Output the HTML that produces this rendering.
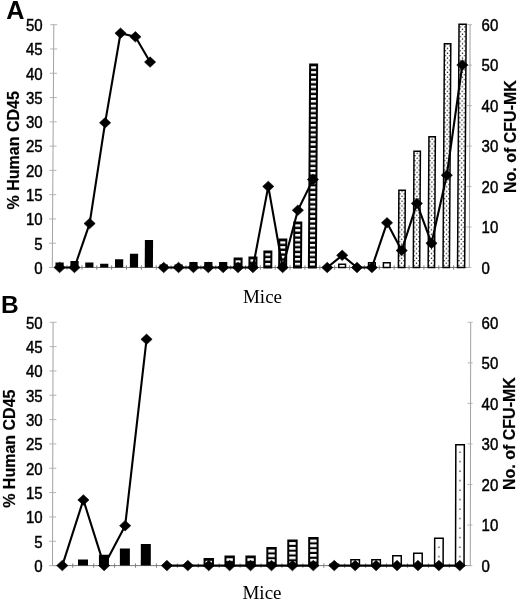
<!DOCTYPE html>
<html><head><meta charset="utf-8"><title>Figure</title>
<style>
html,body{margin:0;padding:0;background:#fff}
svg{display:block;filter:blur(0.35px)}
text{font-family:"Liberation Sans",Arial,sans-serif;fill:#000}
.tk text{font-size:16.7px;stroke:#000;stroke-width:0.45px}
.at{font-size:16px;font-weight:bold;stroke:#000;stroke-width:0.2px}
.pl{font-size:24.5px;font-weight:bold}
.mi{font-family:"Liberation Serif","Times New Roman",serif;font-size:19px}
</style></head><body>
<svg width="520" height="601" viewBox="0 0 520 601">
<defs>
</defs>
<rect width="520" height="601" fill="#fff"/>
<text class="pl" style="font-size:25.2px" x="6.3" y="19">A</text>
<text class="pl" x="1" y="313">B</text>
<g stroke="#969696" stroke-width="0.9" fill="none">
<line x1="53.8" y1="24.7" x2="52.3" y2="267.5"/>
<line x1="470.1" y1="24.7" x2="469.3" y2="267.5"/>
<line x1="52.3" y1="267.5" x2="469.3" y2="267.5" stroke="#6a6a6a"/>
</g><g stroke="#adadad" stroke-width="0.9" fill="none">
<line x1="48.80" y1="267.50" x2="55.80" y2="267.50"/>
<line x1="48.95" y1="243.22" x2="55.95" y2="243.22"/>
<line x1="49.10" y1="218.94" x2="56.10" y2="218.94"/>
<line x1="49.25" y1="194.66" x2="56.25" y2="194.66"/>
<line x1="49.40" y1="170.38" x2="56.40" y2="170.38"/>
<line x1="49.55" y1="146.10" x2="56.55" y2="146.10"/>
<line x1="49.70" y1="121.82" x2="56.70" y2="121.82"/>
<line x1="49.85" y1="97.54" x2="56.85" y2="97.54"/>
<line x1="50.00" y1="73.26" x2="57.00" y2="73.26"/>
<line x1="50.15" y1="48.98" x2="57.15" y2="48.98"/>
<line x1="50.30" y1="24.70" x2="57.30" y2="24.70"/>
<line x1="466.30" y1="267.50" x2="471.30" y2="267.50"/>
<line x1="466.43" y1="227.03" x2="471.43" y2="227.03"/>
<line x1="466.57" y1="186.57" x2="471.57" y2="186.57"/>
<line x1="466.70" y1="146.10" x2="471.70" y2="146.10"/>
<line x1="466.83" y1="105.63" x2="471.83" y2="105.63"/>
<line x1="466.97" y1="65.17" x2="471.97" y2="65.17"/>
<line x1="467.10" y1="24.70" x2="472.10" y2="24.70"/>
<line x1="67.03" y1="265.3" x2="67.03" y2="269.7" stroke="#777"/>
<line x1="81.91" y1="265.3" x2="81.91" y2="269.7" stroke="#777"/>
<line x1="96.78" y1="265.3" x2="96.78" y2="269.7" stroke="#777"/>
<line x1="111.64" y1="265.3" x2="111.64" y2="269.7" stroke="#777"/>
<line x1="126.51" y1="265.3" x2="126.51" y2="269.7" stroke="#777"/>
<line x1="141.38" y1="265.3" x2="141.38" y2="269.7" stroke="#777"/>
<line x1="156.25" y1="265.3" x2="156.25" y2="269.7" stroke="#777"/>
<line x1="171.12" y1="265.3" x2="171.12" y2="269.7" stroke="#777"/>
<line x1="185.99" y1="265.3" x2="185.99" y2="269.7" stroke="#777"/>
<line x1="200.86" y1="265.3" x2="200.86" y2="269.7" stroke="#777"/>
<line x1="215.73" y1="265.3" x2="215.73" y2="269.7" stroke="#777"/>
<line x1="230.60" y1="265.3" x2="230.60" y2="269.7" stroke="#777"/>
<line x1="245.47" y1="265.3" x2="245.47" y2="269.7" stroke="#777"/>
<line x1="260.34" y1="265.3" x2="260.34" y2="269.7" stroke="#777"/>
<line x1="275.21" y1="265.3" x2="275.21" y2="269.7" stroke="#777"/>
<line x1="290.08" y1="265.3" x2="290.08" y2="269.7" stroke="#777"/>
<line x1="304.95" y1="265.3" x2="304.95" y2="269.7" stroke="#777"/>
<line x1="319.82" y1="265.3" x2="319.82" y2="269.7" stroke="#777"/>
<line x1="334.69" y1="265.3" x2="334.69" y2="269.7" stroke="#777"/>
<line x1="349.56" y1="265.3" x2="349.56" y2="269.7" stroke="#777"/>
<line x1="364.44" y1="265.3" x2="364.44" y2="269.7" stroke="#777"/>
<line x1="379.31" y1="265.3" x2="379.31" y2="269.7" stroke="#777"/>
<line x1="394.18" y1="265.3" x2="394.18" y2="269.7" stroke="#777"/>
<line x1="409.05" y1="265.3" x2="409.05" y2="269.7" stroke="#777"/>
<line x1="423.92" y1="265.3" x2="423.92" y2="269.7" stroke="#777"/>
<line x1="438.79" y1="265.3" x2="438.79" y2="269.7" stroke="#777"/>
<line x1="453.65" y1="265.3" x2="453.65" y2="269.7" stroke="#777"/>
</g>
<g class="tk" text-anchor="end">
<text transform="translate(42.6,273.80) scale(0.9,1)">0</text>
<text transform="translate(42.6,249.52) scale(0.9,1)">5</text>
<text transform="translate(42.6,225.24) scale(0.9,1)">10</text>
<text transform="translate(42.6,200.96) scale(0.9,1)">15</text>
<text transform="translate(42.6,176.68) scale(0.9,1)">20</text>
<text transform="translate(42.6,152.40) scale(0.9,1)">25</text>
<text transform="translate(42.6,128.12) scale(0.9,1)">30</text>
<text transform="translate(42.6,103.84) scale(0.9,1)">35</text>
<text transform="translate(42.6,79.56) scale(0.9,1)">40</text>
<text transform="translate(42.6,55.28) scale(0.9,1)">45</text>
<text transform="translate(42.6,31.00) scale(0.9,1)">50</text>
</g><g class="tk" text-anchor="start">
<text transform="translate(481.6,273.80) scale(0.9,1)">0</text>
<text transform="translate(481.6,233.33) scale(0.9,1)">10</text>
<text transform="translate(481.6,192.87) scale(0.9,1)">20</text>
<text transform="translate(481.6,152.40) scale(0.9,1)">30</text>
<text transform="translate(481.6,111.93) scale(0.9,1)">40</text>
<text transform="translate(481.6,71.47) scale(0.9,1)">50</text>
<text transform="translate(481.6,31.00) scale(0.9,1)">60</text>
</g>
<text class="at" text-anchor="middle" transform="translate(18.8,150.3) rotate(-90)">% Human CD45</text>
<text class="at" text-anchor="middle" transform="translate(515.6,136.6) rotate(-90)">No. of CFU-MK</text>
<path d="M55.50 267.50L55.53 262.50L63.73 262.50L63.70 267.50Z" fill="#000"/>
<path d="M70.37 267.50L70.41 261.00L78.61 261.00L78.57 267.50Z" fill="#000"/>
<path d="M85.24 267.50L85.27 262.50L93.47 262.50L93.44 267.50Z" fill="#000"/>
<path d="M100.11 267.50L100.13 263.75L108.33 263.75L108.31 267.50Z" fill="#000"/>
<path d="M114.98 267.50L115.03 259.25L123.23 259.25L123.18 267.50Z" fill="#000"/>
<path d="M129.85 267.50L129.93 253.75L138.13 253.75L138.05 267.50Z" fill="#000"/>
<path d="M144.72 267.50L144.89 240.00L153.09 240.00L152.92 267.50Z" fill="#000"/>
<path d="M159.59 267.50L159.61 264.50L167.81 264.50L167.79 267.50Z" fill="#000"/>
<path d="M174.46 267.50L174.48 264.50L182.68 264.50L182.66 267.50Z" fill="#000"/>
<path d="M189.33 267.50L189.36 262.00L197.56 262.00L197.53 267.50Z" fill="#000"/>
<path d="M204.20 267.50L204.23 262.00L212.43 262.00L212.40 267.50Z" fill="#000"/>
<path d="M219.07 267.50L219.10 262.00L227.30 262.00L227.27 267.50Z" fill="#000"/>
<pattern id="sA12" patternUnits="userSpaceOnUse" x="0" y="255.55" width="12" height="4.8"><rect width="12" height="4.8" fill="#000"/><rect width="12" height="2.4" fill="#fff"/></pattern>
<path d="M234.54 267.50L234.60 258.50L241.60 258.50L241.54 267.50Z" fill="url(#sA12)" stroke="#000" stroke-width="2"/>
<pattern id="sA13" patternUnits="userSpaceOnUse" x="0" y="254.55" width="12" height="4.8"><rect width="12" height="4.8" fill="#000"/><rect width="12" height="2.4" fill="#fff"/></pattern>
<path d="M249.41 267.50L249.47 257.50L256.47 257.50L256.41 267.50Z" fill="url(#sA13)" stroke="#000" stroke-width="2"/>
<pattern id="sA14" patternUnits="userSpaceOnUse" x="0" y="248.55" width="12" height="4.8"><rect width="12" height="4.8" fill="#000"/><rect width="12" height="2.4" fill="#fff"/></pattern>
<path d="M264.28 267.50L264.38 251.50L271.38 251.50L271.28 267.50Z" fill="url(#sA14)" stroke="#000" stroke-width="2"/>
<pattern id="sA15" patternUnits="userSpaceOnUse" x="0" y="236.55" width="12" height="4.8"><rect width="12" height="4.8" fill="#000"/><rect width="12" height="2.4" fill="#fff"/></pattern>
<path d="M279.15 267.50L279.32 239.50L286.32 239.50L286.15 267.50Z" fill="url(#sA15)" stroke="#000" stroke-width="2"/>
<pattern id="sA16" patternUnits="userSpaceOnUse" x="0" y="219.55" width="12" height="4.8"><rect width="12" height="4.8" fill="#000"/><rect width="12" height="2.4" fill="#fff"/></pattern>
<path d="M294.02 267.50L294.30 222.50L301.30 222.50L301.02 267.50Z" fill="url(#sA16)" stroke="#000" stroke-width="2"/>
<pattern id="sA17" patternUnits="userSpaceOnUse" x="0" y="61.55" width="12" height="4.8"><rect width="12" height="4.8" fill="#000"/><rect width="12" height="2.4" fill="#fff"/></pattern>
<path d="M308.89 267.50L310.14 64.50L317.14 64.50L315.89 267.50Z" fill="url(#sA17)" stroke="#000" stroke-width="2"/>
<path d="M338.78 267.50L338.80 264.25L345.50 264.25L345.48 267.50Z" fill="#fff" stroke="#000" stroke-width="1.5"/>
<path d="M368.52 267.50L368.55 262.75L375.25 262.75L375.22 267.50Z" fill="#fff" stroke="#000" stroke-width="1.5"/>
<path d="M383.39 267.50L383.42 262.75L390.12 262.75L390.09 267.50Z" fill="#fff" stroke="#000" stroke-width="1.5"/>
<pattern id="dA23" patternUnits="userSpaceOnUse" patternTransform="matrix(1 0 -0.00618 1 1.653 0)" x="399.41" y="266.70" width="4.4" height="4.77"><rect width="4.4" height="4.77" fill="#fff"/><circle cx="2.2" cy="1.2" r="0.7" fill="#000"/><circle cx="0" cy="3.58" r="0.7" fill="#000"/><circle cx="4.4" cy="3.58" r="0.7" fill="#000"/></pattern>
<path d="M398.41 267.50L398.89 190.35L405.29 190.35L404.81 267.50Z" fill="url(#dA23)" stroke="#000" stroke-width="1.5"/>
<pattern id="dA24" patternUnits="userSpaceOnUse" patternTransform="matrix(1 0 -0.00618 1 1.653 0)" x="414.28" y="266.70" width="4.4" height="4.77"><rect width="4.4" height="4.77" fill="#fff"/><circle cx="2.2" cy="1.2" r="0.7" fill="#000"/><circle cx="0" cy="3.58" r="0.7" fill="#000"/><circle cx="4.4" cy="3.58" r="0.7" fill="#000"/></pattern>
<path d="M413.28 267.50L414.00 151.15L420.40 151.15L419.68 267.50Z" fill="url(#dA24)" stroke="#000" stroke-width="1.5"/>
<pattern id="dA25" patternUnits="userSpaceOnUse" patternTransform="matrix(1 0 -0.00618 1 1.653 0)" x="429.15" y="266.70" width="4.4" height="4.77"><rect width="4.4" height="4.77" fill="#fff"/><circle cx="2.2" cy="1.2" r="0.7" fill="#000"/><circle cx="0" cy="3.58" r="0.7" fill="#000"/><circle cx="4.4" cy="3.58" r="0.7" fill="#000"/></pattern>
<path d="M428.15 267.50L428.96 136.75L435.36 136.75L434.55 267.50Z" fill="url(#dA25)" stroke="#000" stroke-width="1.5"/>
<pattern id="dA26" patternUnits="userSpaceOnUse" patternTransform="matrix(1 0 -0.00618 1 1.653 0)" x="444.02" y="266.70" width="4.4" height="4.77"><rect width="4.4" height="4.77" fill="#fff"/><circle cx="2.2" cy="1.2" r="0.7" fill="#000"/><circle cx="0" cy="3.58" r="0.7" fill="#000"/><circle cx="4.4" cy="3.58" r="0.7" fill="#000"/></pattern>
<path d="M443.02 267.50L444.40 43.75L450.80 43.75L449.42 267.50Z" fill="url(#dA26)" stroke="#000" stroke-width="1.5"/>
<pattern id="dA27" patternUnits="userSpaceOnUse" patternTransform="matrix(1 0 -0.00618 1 1.653 0)" x="458.89" y="266.70" width="4.4" height="4.77"><rect width="4.4" height="4.77" fill="#fff"/><circle cx="2.2" cy="1.2" r="0.7" fill="#000"/><circle cx="0" cy="3.58" r="0.7" fill="#000"/><circle cx="4.4" cy="3.58" r="0.7" fill="#000"/></pattern>
<path d="M457.54 267.50L459.04 24.25L466.14 24.25L464.64 267.50Z" fill="url(#dA27)" stroke="#000" stroke-width="1.5"/>
<polyline fill="none" stroke="#000" stroke-width="2.1" stroke-linejoin="round" points="59.60,267.50 74.47,267.50 89.61,223.55 105.10,122.79 120.53,33.20 135.38,36.84 150.09,62.09"/>
<path d="M54.00 267.50L59.60 262.25L65.20 267.50L59.60 272.75Z" fill="#000" stroke="#000" stroke-width="0.6" stroke-linejoin="round"/>
<path d="M68.87 267.50L74.47 262.25L80.07 267.50L74.47 272.75Z" fill="#000" stroke="#000" stroke-width="0.6" stroke-linejoin="round"/>
<path d="M84.01 223.55L89.61 218.30L95.21 223.55L89.61 228.80Z" fill="#000" stroke="#000" stroke-width="0.6" stroke-linejoin="round"/>
<path d="M99.50 122.79L105.10 117.54L110.70 122.79L105.10 128.04Z" fill="#000" stroke="#000" stroke-width="0.6" stroke-linejoin="round"/>
<path d="M114.93 33.20L120.53 27.95L126.13 33.20L120.53 38.45Z" fill="#000" stroke="#000" stroke-width="0.6" stroke-linejoin="round"/>
<path d="M129.78 36.84L135.38 31.59L140.97 36.84L135.38 42.09Z" fill="#000" stroke="#000" stroke-width="0.6" stroke-linejoin="round"/>
<path d="M144.49 62.09L150.09 56.84L155.69 62.09L150.09 67.34Z" fill="#000" stroke="#000" stroke-width="0.6" stroke-linejoin="round"/>
<polyline fill="none" stroke="#000" stroke-width="2.1" stroke-linejoin="round" points="163.69,267.50 178.56,267.50 193.43,267.50 208.30,267.50 223.17,267.50 238.04,267.50 252.91,267.50 268.28,186.40 282.65,267.50 297.87,210.20 312.93,179.61"/>
<path d="M158.09 267.50L163.69 262.25L169.29 267.50L163.69 272.75Z" fill="#000" stroke="#000" stroke-width="0.6" stroke-linejoin="round"/>
<path d="M172.96 267.50L178.56 262.25L184.16 267.50L178.56 272.75Z" fill="#000" stroke="#000" stroke-width="0.6" stroke-linejoin="round"/>
<path d="M187.83 267.50L193.43 262.25L199.03 267.50L193.43 272.75Z" fill="#000" stroke="#000" stroke-width="0.6" stroke-linejoin="round"/>
<path d="M202.70 267.50L208.30 262.25L213.90 267.50L208.30 272.75Z" fill="#000" stroke="#000" stroke-width="0.6" stroke-linejoin="round"/>
<path d="M217.57 267.50L223.17 262.25L228.77 267.50L223.17 272.75Z" fill="#000" stroke="#000" stroke-width="0.6" stroke-linejoin="round"/>
<path d="M232.44 267.50L238.04 262.25L243.64 267.50L238.04 272.75Z" fill="#000" stroke="#000" stroke-width="0.6" stroke-linejoin="round"/>
<path d="M247.31 267.50L252.91 262.25L258.51 267.50L252.91 272.75Z" fill="#000" stroke="#000" stroke-width="0.6" stroke-linejoin="round"/>
<path d="M262.68 186.40L268.28 181.15L273.88 186.40L268.28 191.65Z" fill="#000" stroke="#000" stroke-width="0.6" stroke-linejoin="round"/>
<path d="M277.05 267.50L282.65 262.25L288.25 267.50L282.65 272.75Z" fill="#000" stroke="#000" stroke-width="0.6" stroke-linejoin="round"/>
<path d="M292.27 210.20L297.87 204.95L303.47 210.20L297.87 215.45Z" fill="#000" stroke="#000" stroke-width="0.6" stroke-linejoin="round"/>
<path d="M307.33 179.61L312.93 174.36L318.53 179.61L312.93 184.86Z" fill="#000" stroke="#000" stroke-width="0.6" stroke-linejoin="round"/>
<polyline fill="none" stroke="#000" stroke-width="2.1" stroke-linejoin="round" points="327.26,267.50 342.20,255.36 357.00,267.50 371.87,267.50 387.02,222.82 401.72,250.50 416.88,203.40 431.50,243.22 446.79,175.24 462.34,65.00"/>
<path d="M321.66 267.50L327.26 262.25L332.86 267.50L327.26 272.75Z" fill="#000" stroke="#000" stroke-width="0.6" stroke-linejoin="round"/>
<path d="M336.60 255.36L342.20 250.11L347.81 255.36L342.20 260.61Z" fill="#000" stroke="#000" stroke-width="0.6" stroke-linejoin="round"/>
<path d="M351.40 267.50L357.00 262.25L362.60 267.50L357.00 272.75Z" fill="#000" stroke="#000" stroke-width="0.6" stroke-linejoin="round"/>
<path d="M366.27 267.50L371.87 262.25L377.47 267.50L371.87 272.75Z" fill="#000" stroke="#000" stroke-width="0.6" stroke-linejoin="round"/>
<path d="M381.42 222.82L387.02 217.57L392.62 222.82L387.02 228.07Z" fill="#000" stroke="#000" stroke-width="0.6" stroke-linejoin="round"/>
<path d="M396.12 250.50L401.72 245.25L407.32 250.50L401.72 255.75Z" fill="#000" stroke="#000" stroke-width="0.6" stroke-linejoin="round"/>
<path d="M411.28 203.40L416.88 198.15L422.48 203.40L416.88 208.65Z" fill="#000" stroke="#000" stroke-width="0.6" stroke-linejoin="round"/>
<path d="M425.90 243.22L431.50 237.97L437.10 243.22L431.50 248.47Z" fill="#000" stroke="#000" stroke-width="0.6" stroke-linejoin="round"/>
<path d="M441.19 175.24L446.79 169.99L452.39 175.24L446.79 180.49Z" fill="#000" stroke="#000" stroke-width="0.6" stroke-linejoin="round"/>
<path d="M456.74 65.00L462.34 59.75L467.94 65.00L462.34 70.25Z" fill="#000" stroke="#000" stroke-width="0.6" stroke-linejoin="round"/>
<text class="mi" x="262.5" y="303" text-anchor="middle">Mice</text>
<g stroke="#969696" stroke-width="0.9" fill="none">
<line x1="53.1" y1="322.3" x2="52.5" y2="565.6"/>
<line x1="470.7" y1="322.3" x2="470.3" y2="565.6"/>
<line x1="52.5" y1="565.6" x2="470.3" y2="565.6" stroke="#6a6a6a"/>
</g><g stroke="#adadad" stroke-width="0.9" fill="none">
<line x1="49.00" y1="565.60" x2="56.00" y2="565.60"/>
<line x1="49.06" y1="541.27" x2="56.06" y2="541.27"/>
<line x1="49.12" y1="516.94" x2="56.12" y2="516.94"/>
<line x1="49.18" y1="492.61" x2="56.18" y2="492.61"/>
<line x1="49.24" y1="468.28" x2="56.24" y2="468.28"/>
<line x1="49.30" y1="443.95" x2="56.30" y2="443.95"/>
<line x1="49.36" y1="419.62" x2="56.36" y2="419.62"/>
<line x1="49.42" y1="395.29" x2="56.42" y2="395.29"/>
<line x1="49.48" y1="370.96" x2="56.48" y2="370.96"/>
<line x1="49.54" y1="346.63" x2="56.54" y2="346.63"/>
<line x1="49.60" y1="322.30" x2="56.60" y2="322.30"/>
<line x1="467.30" y1="565.60" x2="472.30" y2="565.60"/>
<line x1="467.37" y1="525.05" x2="472.37" y2="525.05"/>
<line x1="467.43" y1="484.50" x2="472.43" y2="484.50"/>
<line x1="467.50" y1="443.95" x2="472.50" y2="443.95"/>
<line x1="467.57" y1="403.40" x2="472.57" y2="403.40"/>
<line x1="467.63" y1="362.85" x2="472.63" y2="362.85"/>
<line x1="467.70" y1="322.30" x2="472.70" y2="322.30"/>
<line x1="72.76" y1="563.4" x2="72.76" y2="567.8000000000001" stroke="#777"/>
<line x1="93.68" y1="563.4" x2="93.68" y2="567.8000000000001" stroke="#777"/>
<line x1="114.60" y1="563.4" x2="114.60" y2="567.8000000000001" stroke="#777"/>
<line x1="135.52" y1="563.4" x2="135.52" y2="567.8000000000001" stroke="#777"/>
<line x1="156.44" y1="563.4" x2="156.44" y2="567.8000000000001" stroke="#777"/>
<line x1="177.36" y1="563.4" x2="177.36" y2="567.8000000000001" stroke="#777"/>
<line x1="198.28" y1="563.4" x2="198.28" y2="567.8000000000001" stroke="#777"/>
<line x1="219.20" y1="563.4" x2="219.20" y2="567.8000000000001" stroke="#777"/>
<line x1="240.12" y1="563.4" x2="240.12" y2="567.8000000000001" stroke="#777"/>
<line x1="261.04" y1="563.4" x2="261.04" y2="567.8000000000001" stroke="#777"/>
<line x1="281.96" y1="563.4" x2="281.96" y2="567.8000000000001" stroke="#777"/>
<line x1="302.88" y1="563.4" x2="302.88" y2="567.8000000000001" stroke="#777"/>
<line x1="323.80" y1="563.4" x2="323.80" y2="567.8000000000001" stroke="#777"/>
<line x1="344.72" y1="563.4" x2="344.72" y2="567.8000000000001" stroke="#777"/>
<line x1="365.64" y1="563.4" x2="365.64" y2="567.8000000000001" stroke="#777"/>
<line x1="386.56" y1="563.4" x2="386.56" y2="567.8000000000001" stroke="#777"/>
<line x1="407.48" y1="563.4" x2="407.48" y2="567.8000000000001" stroke="#777"/>
<line x1="428.40" y1="563.4" x2="428.40" y2="567.8000000000001" stroke="#777"/>
<line x1="449.32" y1="563.4" x2="449.32" y2="567.8000000000001" stroke="#777"/>
</g>
<g class="tk" text-anchor="end">
<text transform="translate(42.6,571.90) scale(0.9,1)">0</text>
<text transform="translate(42.6,547.57) scale(0.9,1)">5</text>
<text transform="translate(42.6,523.24) scale(0.9,1)">10</text>
<text transform="translate(42.6,498.91) scale(0.9,1)">15</text>
<text transform="translate(42.6,474.58) scale(0.9,1)">20</text>
<text transform="translate(42.6,450.25) scale(0.9,1)">25</text>
<text transform="translate(42.6,425.92) scale(0.9,1)">30</text>
<text transform="translate(42.6,401.59) scale(0.9,1)">35</text>
<text transform="translate(42.6,377.26) scale(0.9,1)">40</text>
<text transform="translate(42.6,352.93) scale(0.9,1)">45</text>
<text transform="translate(42.6,328.60) scale(0.9,1)">50</text>
</g><g class="tk" text-anchor="start">
<text transform="translate(481.6,571.90) scale(0.9,1)">0</text>
<text transform="translate(481.6,531.35) scale(0.9,1)">10</text>
<text transform="translate(481.6,490.80) scale(0.9,1)">20</text>
<text transform="translate(481.6,450.25) scale(0.9,1)">30</text>
<text transform="translate(481.6,409.70) scale(0.9,1)">40</text>
<text transform="translate(481.6,369.15) scale(0.9,1)">50</text>
<text transform="translate(481.6,328.60) scale(0.9,1)">60</text>
</g>
<text class="at" text-anchor="middle" transform="translate(14.6,448.7) rotate(-90)">% Human CD45</text>
<text class="at" text-anchor="middle" transform="translate(515.4,433.6) rotate(-90)">No. of CFU-MK</text>
<path d="M78.02 565.60L78.03 559.60L88.03 559.60L88.02 565.60Z" fill="#000"/>
<path d="M98.94 565.60L98.97 554.85L108.97 554.85L108.94 565.60Z" fill="#000"/>
<path d="M119.86 565.60L119.90 548.60L129.90 548.60L129.86 565.60Z" fill="#000"/>
<path d="M140.78 565.60L140.83 544.10L150.83 544.10L150.78 565.60Z" fill="#000"/>
<pattern id="sB7" patternUnits="userSpaceOnUse" x="0" y="556.00" width="12" height="4.8"><rect width="12" height="4.8" fill="#000"/><rect width="12" height="2.7" fill="#fff"/></pattern>
<path d="M204.54 565.60L204.56 559.10L212.96 559.10L212.94 565.60Z" fill="url(#sB7)" stroke="#000" stroke-width="2"/>
<pattern id="sB8" patternUnits="userSpaceOnUse" x="0" y="553.50" width="12" height="4.8"><rect width="12" height="4.8" fill="#000"/><rect width="12" height="2.7" fill="#fff"/></pattern>
<path d="M225.46 565.60L225.48 556.60L233.88 556.60L233.86 565.60Z" fill="url(#sB8)" stroke="#000" stroke-width="2"/>
<pattern id="sB9" patternUnits="userSpaceOnUse" x="0" y="553.50" width="12" height="4.8"><rect width="12" height="4.8" fill="#000"/><rect width="12" height="2.7" fill="#fff"/></pattern>
<path d="M246.38 565.60L246.40 556.60L254.80 556.60L254.78 565.60Z" fill="url(#sB9)" stroke="#000" stroke-width="2"/>
<pattern id="sB10" patternUnits="userSpaceOnUse" x="0" y="544.80" width="12" height="4.8"><rect width="12" height="4.8" fill="#000"/><rect width="12" height="2.7" fill="#fff"/></pattern>
<path d="M267.30 565.60L267.34 547.90L275.74 547.90L275.70 565.60Z" fill="url(#sB10)" stroke="#000" stroke-width="2"/>
<pattern id="sB11" patternUnits="userSpaceOnUse" x="0" y="537.30" width="12" height="4.8"><rect width="12" height="4.8" fill="#000"/><rect width="12" height="2.7" fill="#fff"/></pattern>
<path d="M288.22 565.60L288.28 540.40L296.68 540.40L296.62 565.60Z" fill="url(#sB11)" stroke="#000" stroke-width="2"/>
<pattern id="sB12" patternUnits="userSpaceOnUse" x="0" y="534.80" width="12" height="4.8"><rect width="12" height="4.8" fill="#000"/><rect width="12" height="2.7" fill="#fff"/></pattern>
<path d="M309.14 565.60L309.21 537.90L317.61 537.90L317.54 565.60Z" fill="url(#sB12)" stroke="#000" stroke-width="2"/>
<path d="M330.01 565.60L330.01 564.35L338.51 564.35L338.51 565.60Z" fill="#fff" stroke="#000" stroke-width="1.5"/>
<path d="M350.93 565.60L350.94 559.85L359.44 559.85L359.43 565.60Z" fill="#fff" stroke="#000" stroke-width="1.5"/>
<path d="M371.85 565.60L371.86 559.85L380.36 559.85L380.35 565.60Z" fill="#fff" stroke="#000" stroke-width="1.5"/>
<path d="M392.77 565.60L392.79 555.65L401.29 555.65L401.27 565.60Z" fill="#fff" stroke="#000" stroke-width="1.5"/>
<path d="M413.69 565.60L413.72 553.15L422.22 553.15L422.19 565.60Z" fill="#fff" stroke="#000" stroke-width="1.5"/>
<pattern id="pB18" patternUnits="userSpaceOnUse" patternTransform="matrix(1 0 -0.00247 1 1.395 0)" x="433.86" y="562.10" width="10" height="9.5"><rect width="10" height="9.5" fill="#fff"/><circle cx="5" cy="4" r="0.7" fill="#000"/></pattern>
<path d="M434.61 565.60L434.68 538.35L443.18 538.35L443.11 565.60Z" fill="url(#pB18)" stroke="#000" stroke-width="1.5"/>
<pattern id="pB19" patternUnits="userSpaceOnUse" patternTransform="matrix(1 0 -0.00247 1 1.395 0)" x="454.78" y="562.10" width="10" height="9.5"><rect width="10" height="9.5" fill="#fff"/><circle cx="5" cy="4" r="0.7" fill="#000"/></pattern>
<path d="M455.53 565.60L455.83 444.75L464.33 444.75L464.03 565.60Z" fill="url(#pB19)" stroke="#000" stroke-width="1.5"/>
<polyline fill="none" stroke="#000" stroke-width="2.1" stroke-linejoin="round" points="62.30,565.60 83.38,499.91 104.14,565.60 125.16,525.70 146.54,339.33"/>
<path d="M56.70 565.60L62.30 560.35L67.90 565.60L62.30 570.85Z" fill="#000" stroke="#000" stroke-width="0.6" stroke-linejoin="round"/>
<path d="M77.78 499.91L83.38 494.66L88.98 499.91L83.38 505.16Z" fill="#000" stroke="#000" stroke-width="0.6" stroke-linejoin="round"/>
<path d="M98.54 565.60L104.14 560.35L109.74 565.60L104.14 570.85Z" fill="#000" stroke="#000" stroke-width="0.6" stroke-linejoin="round"/>
<path d="M119.56 525.70L125.16 520.45L130.76 525.70L125.16 530.95Z" fill="#000" stroke="#000" stroke-width="0.6" stroke-linejoin="round"/>
<path d="M140.94 339.33L146.54 334.08L152.14 339.33L146.54 344.58Z" fill="#000" stroke="#000" stroke-width="0.6" stroke-linejoin="round"/>
<polyline fill="none" stroke="#000" stroke-width="2.1" stroke-linejoin="round" points="166.90,565.60 187.82,565.60 208.74,565.60 229.66,565.60 250.58,565.60 271.50,565.60 292.42,565.60 313.34,565.60"/>
<path d="M161.30 565.60L166.90 560.35L172.50 565.60L166.90 570.85Z" fill="#000" stroke="#000" stroke-width="0.6" stroke-linejoin="round"/>
<path d="M182.22 565.60L187.82 560.35L193.42 565.60L187.82 570.85Z" fill="#000" stroke="#000" stroke-width="0.6" stroke-linejoin="round"/>
<path d="M203.14 565.60L208.74 560.35L214.34 565.60L208.74 570.85Z" fill="#000" stroke="#000" stroke-width="0.6" stroke-linejoin="round"/>
<path d="M224.06 565.60L229.66 560.35L235.26 565.60L229.66 570.85Z" fill="#000" stroke="#000" stroke-width="0.6" stroke-linejoin="round"/>
<path d="M244.98 565.60L250.58 560.35L256.18 565.60L250.58 570.85Z" fill="#000" stroke="#000" stroke-width="0.6" stroke-linejoin="round"/>
<path d="M265.90 565.60L271.50 560.35L277.10 565.60L271.50 570.85Z" fill="#000" stroke="#000" stroke-width="0.6" stroke-linejoin="round"/>
<path d="M286.82 565.60L292.42 560.35L298.02 565.60L292.42 570.85Z" fill="#000" stroke="#000" stroke-width="0.6" stroke-linejoin="round"/>
<path d="M307.74 565.60L313.34 560.35L318.94 565.60L313.34 570.85Z" fill="#000" stroke="#000" stroke-width="0.6" stroke-linejoin="round"/>
<polyline fill="none" stroke="#000" stroke-width="2.1" stroke-linejoin="round" points="334.26,565.60 355.18,565.60 376.10,565.60 397.02,565.60 417.94,565.60 438.86,565.60 459.78,565.60"/>
<path d="M328.66 565.60L334.26 560.35L339.86 565.60L334.26 570.85Z" fill="#000" stroke="#000" stroke-width="0.6" stroke-linejoin="round"/>
<path d="M349.58 565.60L355.18 560.35L360.78 565.60L355.18 570.85Z" fill="#000" stroke="#000" stroke-width="0.6" stroke-linejoin="round"/>
<path d="M370.50 565.60L376.10 560.35L381.70 565.60L376.10 570.85Z" fill="#000" stroke="#000" stroke-width="0.6" stroke-linejoin="round"/>
<path d="M391.42 565.60L397.02 560.35L402.62 565.60L397.02 570.85Z" fill="#000" stroke="#000" stroke-width="0.6" stroke-linejoin="round"/>
<path d="M412.34 565.60L417.94 560.35L423.54 565.60L417.94 570.85Z" fill="#000" stroke="#000" stroke-width="0.6" stroke-linejoin="round"/>
<path d="M433.26 565.60L438.86 560.35L444.46 565.60L438.86 570.85Z" fill="#000" stroke="#000" stroke-width="0.6" stroke-linejoin="round"/>
<path d="M454.18 565.60L459.78 560.35L465.38 565.60L459.78 570.85Z" fill="#000" stroke="#000" stroke-width="0.6" stroke-linejoin="round"/>
<text class="mi" x="262" y="598.8" text-anchor="middle">Mice</text>
</svg>
</body></html>
